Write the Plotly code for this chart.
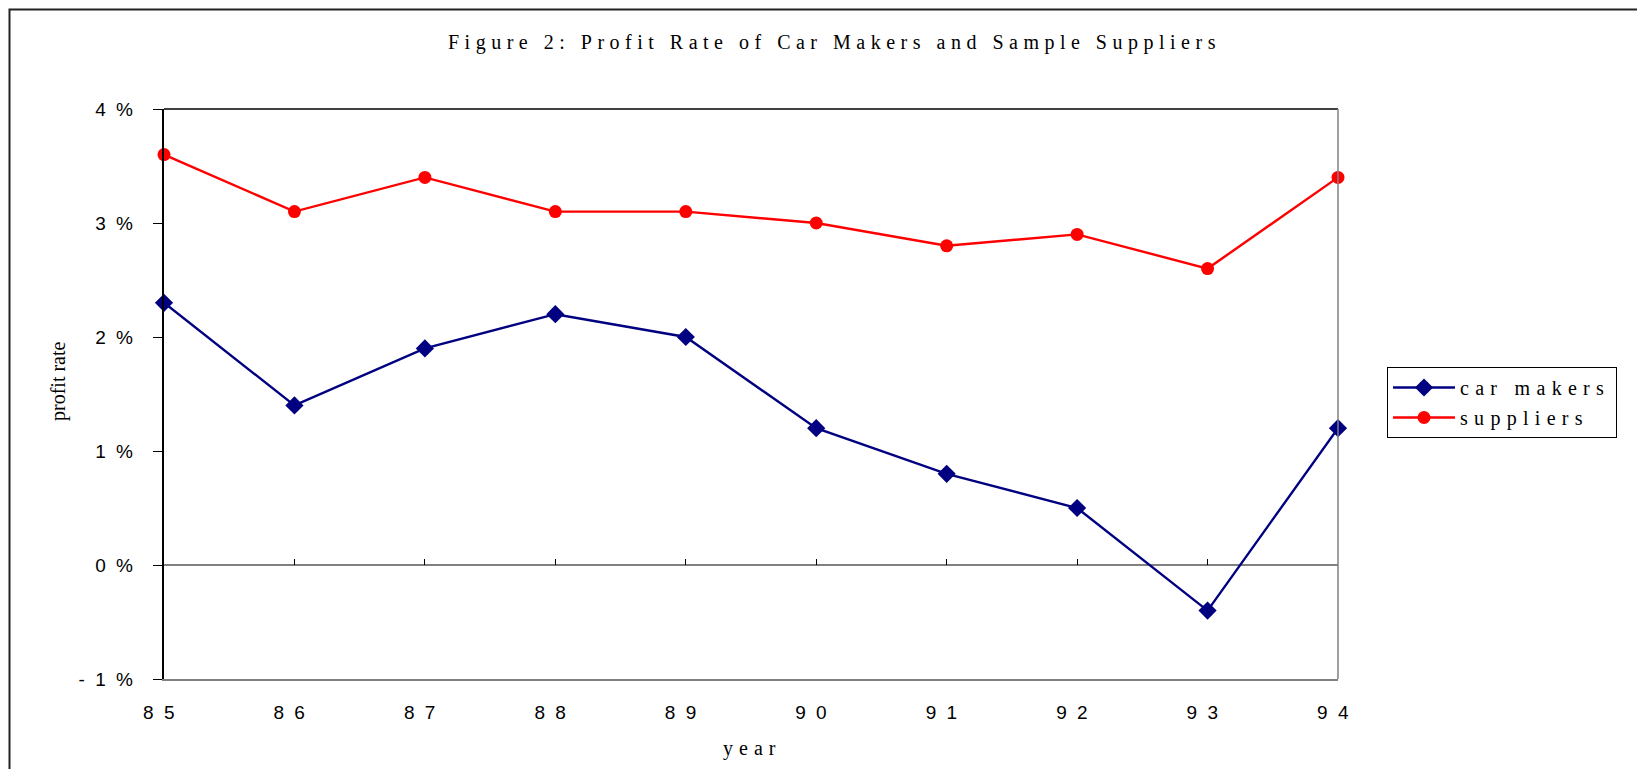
import plotly.graph_objects as go

years = ["85", "86", "87", "88", "89", "90", "91", "92", "93", "94"]
year_labels = ["8 5", "8 6", "8 7", "8 8", "8 9", "9 0", "9 1", "9 2", "9 3", "9 4"]
car_makers = [2.3, 1.4, 1.9, 2.2, 2.0, 1.2, 0.8, 0.5, -0.4, 1.2]
suppliers = [3.6, 3.1, 3.4, 3.1, 3.1, 3.0, 2.8, 2.9, 2.6, 3.4]
y_ticks = [-1, 0, 1, 2, 3, 4]
y_tick_labels = ["- 1 %", "0 %", "1 %", "2 %", "3 %", "4 %"]

W, H = 1629, 761
OFF = 8
PL, PR, PT, PB = 164, 1338, 109, 679  # plot area in screen px


def px(xs):
    return (xs - PL) / (PR - PL)


def py(ys):
    return (PB - ys) / (PB - PT)


def sp(text, s):
    return '<span style="letter-spacing:%spx">%s</span>' % (s, text)


serif = "Liberation Serif, Times New Roman, serif"
sans = "Liberation Sans, Arial, sans-serif"

idx = list(range(len(years)))

fig = go.Figure()
fig.add_trace(go.Scatter(
    x=years, y=car_makers, mode="lines+markers", name=sp("car makers", 6.3),
    legendgroup="a", cliponaxis=False,
    line=dict(color="#000080", width=2.4),
    marker=dict(symbol="diamond", size=14, color="#000080"),
))
fig.add_trace(go.Scatter(
    x=idx, y=suppliers, xaxis="x2", mode="lines+markers", name=sp("suppliers", 6.3),
    legendgroup="b", cliponaxis=False,
    line=dict(color="#FF0000", width=2.4),
    marker=dict(symbol="circle", size=13, color="#FF0000"),
))

fig.update_layout(
    width=W, height=H,
    margin=dict(l=PL - OFF, r=W - (PR - OFF), t=PT - OFF, b=H - (PB - OFF), pad=0),
    paper_bgcolor="white", plot_bgcolor="white",
    showlegend=True,
    legend=dict(
        x=px(1387), y=py(367), xanchor="left", yanchor="top",
        bgcolor="white", bordercolor="#000000", borderwidth=1,
        font=dict(family=serif, size=20, color="#000000"),
        tracegroupgap=1, itemwidth=62,
    ),
    xaxis=dict(
        type="category", range=[0, 9],
        tickmode="array", tickvals=years,
        ticktext=[sp(t, 2.5) for t in year_labels],
        ticks="", showgrid=False, zeroline=False,
        showline=True, linecolor="#808080", linewidth=1.5,
        tickfont=dict(family=sans, size=19, color="#000000"),
        ticklabelstandoff=15, ticklabelshift=-4,
    ),
    xaxis2=dict(
        overlaying="x", anchor="free", position=0.2,
        type="linear", range=[0, 9], tickmode="linear", tick0=0, dtick=1,
        ticks="inside", ticklen=6, tickwidth=1, tickcolor="#000000",
        showticklabels=False, showline=False, showgrid=False, zeroline=False,
    ),
    yaxis=dict(
        range=[-1, 4], tickmode="array", tickvals=y_ticks,
        ticktext=[sp(t, 2.5) for t in y_tick_labels],
        ticks="outside", ticklen=9, tickwidth=1, tickcolor="#000000",
        showgrid=False, zeroline=True, zerolinecolor="#808080", zerolinewidth=1.5,
        showline=True, linecolor="#000000", linewidth=1.5,
        tickfont=dict(family=sans, size=19, color="#000000"),
        ticklabelstandoff=14,
    ),
    shapes=[
        dict(type="line", xref="paper", yref="paper", x0=0, x1=1, y0=1, y1=1,
             line=dict(color="#000000", width=1.5)),
        dict(type="line", xref="paper", yref="paper", x0=1, x1=1, y0=0, y1=1,
             line=dict(color="#808080", width=1.5)),
        dict(type="rect", xref="paper", yref="paper", x0=px(9.5), x1=2, y0=-1, y1=py(9.5),
             line=dict(color="#222222", width=2)),
    ],
    annotations=[
        dict(text=sp("Figure 2: Profit Rate of Car Makers and Sample Suppliers", 5.5),
             xref="paper", yref="paper", x=px(834), y=py(42),
             xanchor="center", yanchor="middle", showarrow=False,
             font=dict(family=serif, size=20, color="#000000")),
        dict(text="profit rate", xref="paper", yref="paper", x=px(58), y=py(381),
             xanchor="center", yanchor="middle", showarrow=False, textangle=-90,
             font=dict(family=serif, size=20, color="#000000")),
        dict(text=sp("year", 6), xref="paper", yref="paper", x=px(752), y=py(748),
             xanchor="center", yanchor="middle", showarrow=False,
             font=dict(family=serif, size=20, color="#000000")),
    ],
)

fig.write_html("out.html")
